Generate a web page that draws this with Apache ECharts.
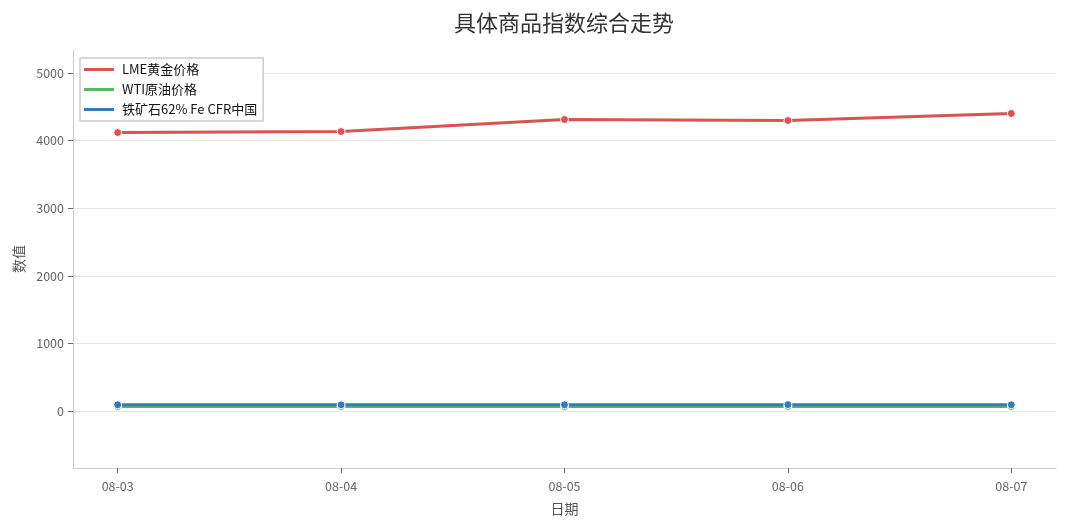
<!DOCTYPE html>
<html>
<head>
<meta charset="utf-8">
<script src="https://cdn.jsdelivr.net/npm/echarts@6/dist/echarts.min.js"></script>
<style>
html, body { margin: 0; padding: 0; background: #fff; }
#main { width: 1068px; height: 528px; }
</style>
</head>
<body>
<div id="main"></div>
<script>
var dates = ['08-03', '08-04', '08-05', '08-06', '08-07'];
var goldLME = [4119, 4134, 4312, 4297, 4401];
var oilWTI = [67, 66, 66, 67, 66];
var ironOre = [92, 91, 92, 94, 93];
var yTicks = [0, 1000, 2000, 3000, 4000, 5000];

var names = ['LME黄金价格', 'WTI原油价格', '铁矿石62% Fe CFR中国'];
var colors = ['#d9534f', '#5cb85c', '#337ab7'];

var font = '"Noto Sans CJK SC", "Noto Sans", sans-serif';

function pairs(arr) {
    var out = [];
    for (var i = 0; i < arr.length; i++) {
        out.push([i, arr[i]]);
    }
    return out;
}

function lineSeries(name, color, data) {
    return {
        name: name,
        type: 'line',
        data: pairs(data),
        symbol: 'circle',
        symbolSize: 8,
        lineStyle: { color: color, width: 3 },
        itemStyle: { color: color, borderColor: '#fff', borderWidth: 1 },
        emphasis: { disabled: true }
    };
}

var legendData = [];
for (var k = 0; k < names.length; k++) {
    legendData.push({ name: names[k], icon: 'rect', itemStyle: { color: colors[k], borderWidth: 0 } });
}

var myChart = echarts.init(document.getElementById('main'));
var option = {
    backgroundColor: '#fff',
    animation: false,
    textStyle: { fontFamily: font },
    title: {
        text: '具体商品指数综合走势',
        left: 559,
        textAlign: 'center',
        top: 7,
        textStyle: { fontFamily: font, fontSize: 22, fontWeight: 'normal', color: '#333' }
    },
    legend: {
        orient: 'vertical',
        left: 80,
        top: 58,
        padding: [5, 6, 5, 4],
        itemGap: 7,
        itemWidth: 30,
        itemHeight: 3,
        backgroundColor: '#fff',
        borderColor: '#ccc',
        borderWidth: 1.5,
        borderRadius: 0,
        textStyle: { fontFamily: font, fontSize: 13, color: '#111', padding: [0, 0, 0, 3] },
        data: legendData
    },
    grid: { left: 73, right: 12, top: 50, bottom: 60 },
    xAxis: {
        type: 'value',
        min: -0.2,
        max: 4.2,
        name: '日期',
        nameLocation: 'middle',
        nameGap: 34,
        nameTextStyle: { fontSize: 14, color: '#555' },
        axisLine: { onZero: false, lineStyle: { color: '#ccc' } },
        axisTick: { show: true, customValues: [0, 1, 2, 3, 4], length: 5, lineStyle: { color: '#666' } },
        axisLabel: {
            customValues: [0, 1, 2, 3, 4],
            color: '#666',
            fontSize: 12.5,
            margin: 12,
            formatter: function (v) { return dates[Math.round(v)]; }
        },
        splitLine: { show: false }
    },
    yAxis: {
        type: 'value',
        min: -843,
        max: 5340,
        name: '数值',
        nameLocation: 'middle',
        nameGap: 46,
        nameRotate: 90,
        nameTextStyle: { fontSize: 14, color: '#555' },
        axisLine: { show: true, onZero: false, lineStyle: { color: '#ccc' } },
        axisTick: { show: true, customValues: yTicks, length: 5, lineStyle: { color: '#666' } },
        axisLabel: {
            customValues: yTicks,
            color: '#666',
            fontSize: 12.5,
            margin: 9,
            formatter: function (v) { return String(v); }
        },
        splitLine: { show: true, lineStyle: { color: '#e8e8e8' } }
    },
    series: [
        lineSeries(names[0], colors[0], goldLME),
        lineSeries(names[1], colors[1], oilWTI),
        lineSeries(names[2], colors[2], ironOre)
    ]
};
myChart.setOption(option);
</script>
</body>
</html>
